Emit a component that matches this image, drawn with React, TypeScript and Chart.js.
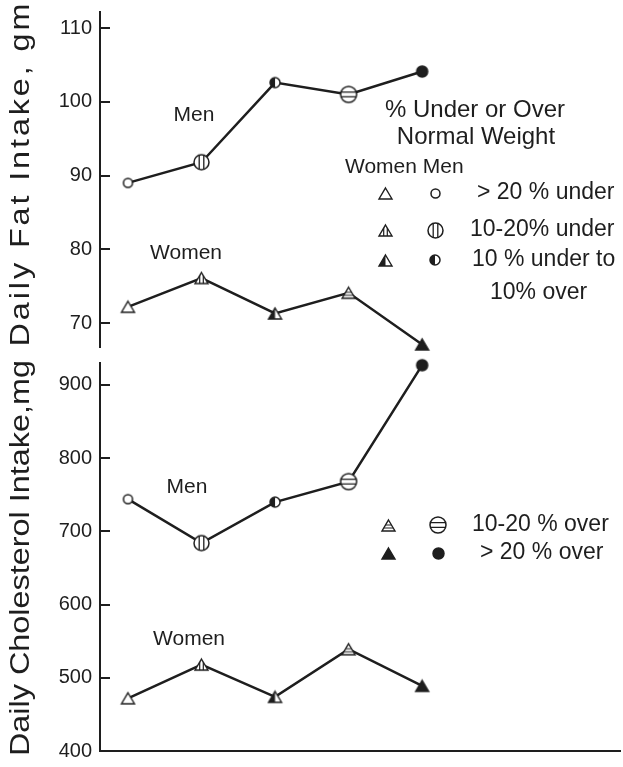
import React, { useEffect, useRef } from 'react';
import { Chart, registerables } from 'chart.js';

Chart.register(...registerables);

// ---- data ----
const weightGroups = ['>20% under', '10-20% under', '10% under to 10% over', '10-20% over', '>20% over'];
const groupPos = [1, 2, 3, 4, 5];
const fatMen = [89.0, 91.8, 102.6, 101.0, 104.1];
const fatWomen = [72.2, 76.1, 71.3, 74.1, 67.1];
const cholMen = [744, 684, 740, 768, 927];
const cholWomen = [472, 518, 474, 539, 489];
const fatTicks = [70, 80, 90, 100, 110];
const cholTicks = [400, 500, 600, 700, 800, 900];
const fatTitle = 'Daily Fat Intake, gm';
const cholTitle = 'Daily Cholesterol Intake,mg';
const legendTitle = ['% Under or Over', 'Normal Weight'];
const legendHeader = 'Women Men';
const topLegendRows = ['> 20 % under', '10-20% under', '10 % under to', '10% over'];
const bottomLegendRows = ['10-20 % over', '> 20 % over'];

const FONT = "'Liberation Sans', Arial, sans-serif";
const INK = '#1e1e1e';

const X_MIN = 0.62;
const X_MAX = 7.69;

const BOT_TOP = 348;
const BOT_H = 767 - BOT_TOP;

type Kind = 'open' | 'vlines' | 'half' | 'hlines' | 'filled';
const kinds: Kind[] = ['open', 'vlines', 'half', 'hlines', 'filled'];

function makeCircle(kind: Kind): HTMLCanvasElement {
  const radii: Record<Kind, number> = { open: 4.5, vlines: 7.5, half: 5, hlines: 8, filled: 5.5 };
  const r = radii[kind];
  const size = Math.ceil(r * 2 + 4);
  const c = document.createElement('canvas');
  c.width = size;
  c.height = size;
  const ctx = c.getContext('2d')!;
  const cx = size / 2;
  const cy = size / 2;
  ctx.lineWidth = 1.5;
  ctx.strokeStyle = INK;
  ctx.fillStyle = '#fff';
  ctx.beginPath();
  ctx.arc(cx, cy, r, 0, Math.PI * 2);
  ctx.fill();
  if (kind === 'filled') {
    ctx.fillStyle = INK;
    ctx.fill();
  }
  if (kind === 'half') {
    ctx.fillStyle = INK;
    ctx.beginPath();
    ctx.arc(cx, cy, r, Math.PI / 2, Math.PI * 1.5);
    ctx.closePath();
    ctx.fill();
  }
  if (kind === 'vlines' || kind === 'hlines') {
    ctx.save();
    ctx.beginPath();
    ctx.arc(cx, cy, r, 0, Math.PI * 2);
    ctx.clip();
    ctx.beginPath();
    for (const d of [-2.3, 2.3]) {
      if (kind === 'vlines') {
        ctx.moveTo(cx + d, cy - r);
        ctx.lineTo(cx + d, cy + r);
      } else {
        ctx.moveTo(cx - r, cy + d);
        ctx.lineTo(cx + r, cy + d);
      }
    }
    ctx.lineWidth = 1.3;
    ctx.stroke();
    ctx.restore();
  }
  ctx.beginPath();
  ctx.arc(cx, cy, r, 0, Math.PI * 2);
  ctx.stroke();
  return c;
}

function makeTriangle(kind: Kind): HTMLCanvasElement {
  const w = 13;
  const h = 11;
  const c = document.createElement('canvas');
  c.width = w + 4;
  c.height = h + 4;
  const ctx = c.getContext('2d')!;
  const cx = c.width / 2;
  const topY = 2;
  const baseY = 2 + h;
  const path = () => {
    ctx.beginPath();
    ctx.moveTo(cx, topY);
    ctx.lineTo(cx + w / 2, baseY);
    ctx.lineTo(cx - w / 2, baseY);
    ctx.closePath();
  };
  ctx.lineWidth = 1.4;
  ctx.strokeStyle = INK;
  ctx.fillStyle = '#fff';
  path();
  ctx.fill();
  if (kind === 'filled') {
    ctx.fillStyle = INK;
    ctx.fill();
  }
  if (kind === 'half') {
    ctx.fillStyle = INK;
    ctx.beginPath();
    ctx.moveTo(cx, topY);
    ctx.lineTo(cx, baseY);
    ctx.lineTo(cx - w / 2, baseY);
    ctx.closePath();
    ctx.fill();
  }
  if (kind === 'vlines' || kind === 'hlines') {
    ctx.save();
    path();
    ctx.clip();
    ctx.beginPath();
    if (kind === 'vlines') {
      for (const d of [-1.8, 1.8]) {
        ctx.moveTo(cx + d, topY);
        ctx.lineTo(cx + d, baseY);
      }
    } else {
      for (const yy of [baseY - 3, baseY - 6]) {
        ctx.moveTo(cx - w / 2, yy);
        ctx.lineTo(cx + w / 2, yy);
      }
    }
    ctx.lineWidth = 1.2;
    ctx.stroke();
    ctx.restore();
  }
  path();
  ctx.stroke();
  return c;
}

function drawText(ctx: CanvasRenderingContext2D, text: string, x: number, y: number, size: number, align: CanvasTextAlign) {
  ctx.save();
  ctx.font = `${size}px ${FONT}`;
  ctx.fillStyle = INK;
  ctx.textAlign = align;
  ctx.textBaseline = 'middle';
  ctx.fillText(text, x, y);
  ctx.restore();
}

// Axis title: rotated, slightly extended glyphs to mimic the wide typeface of the original
function drawAxisTitle(ctx: CanvasRenderingContext2D, text: string, baseX: number, centerY: number, spacing: number) {
  ctx.save();
  ctx.font = `27px ${FONT}`;
  ctx.fillStyle = INK;
  (ctx as any).letterSpacing = `${spacing}px`;
  ctx.textAlign = 'center';
  ctx.textBaseline = 'alphabetic';
  ctx.translate(baseX, centerY);
  ctx.rotate(-Math.PI / 2);
  ctx.scale(1.2, 1);
  ctx.fillText(text, spacing / 2, 0);
  ctx.restore();
}

function drawImg(ctx: CanvasRenderingContext2D, img: HTMLCanvasElement, x: number, y: number) {
  ctx.drawImage(img, Math.round(x - img.width / 2), Math.round(y - img.height / 2));
}

const tickMarkPlugin = {
  id: 'innerTicks',
  afterDraw(chart: any) {
    const { ctx, chartArea } = chart;
    const scale = chart.scales.y;
    ctx.save();
    ctx.strokeStyle = INK;
    ctx.lineWidth = 2;
    ctx.beginPath();
    for (const t of scale.ticks) {
      const y = Math.round(scale.getPixelForValue(t.value));
      if (Math.abs(y - chartArea.bottom) < 1) continue;
      ctx.moveTo(chartArea.left, y);
      ctx.lineTo(chartArea.left + 10, y);
    }
    ctx.stroke();
    ctx.restore();
  },
};

function yScale(min: number, max: number, ticks: number[]) {
  return {
    min,
    max,
    afterFit: (s: any) => {
      s.width = 100;
      s.paddingTop = 0;
      s.paddingBottom = 0;
    },
    afterBuildTicks: (s: any) => {
      s.ticks = ticks.map((v) => ({ value: v }));
    },
    grid: { display: false, drawTicks: false },
    border: { display: true, color: INK, width: 2 },
    ticks: { font: { size: 20, family: FONT }, color: INK, padding: 8 },
    title: { display: false },
  };
}

function dataset(label: string, values: number[], styles: HTMLCanvasElement[]) {
  return {
    label,
    data: groupPos.map((x, i) => ({ x, y: values[i] })),
    borderColor: INK,
    backgroundColor: INK,
    borderWidth: 2.5,
    pointStyle: styles,
    pointRadius: 0.5,
    pointHoverRadius: 0.5,
    pointBorderWidth: 0,
    tension: 0,
    clip: false as any,
  };
}

export default function App() {
  const topRef = useRef<HTMLCanvasElement>(null);
  const botRef = useRef<HTMLCanvasElement>(null);

  useEffect(() => {
    const circles = kinds.map(makeCircle);
    const tris = kinds.map(makeTriangle);

    const topText = {
      id: 'topText',
      afterDraw(chart: any) {
        const ctx = chart.ctx as CanvasRenderingContext2D;
        drawAxisTitle(ctx, fatTitle, 29, 175, 2.4);
        drawText(ctx, 'Men', 194, 115, 21, 'center');
        drawText(ctx, 'Women', 186, 253, 21, 'center');
        drawText(ctx, legendTitle[0], 475, 110, 24, 'center');
        drawText(ctx, legendTitle[1], 476, 137, 24, 'center');
        drawText(ctx, legendHeader, 345, 167, 21, 'left');
        const rowsY = [193, 230, 260];
        const rowsX = [477, 470, 472];
        for (let i = 0; i < 3; i++) {
          drawImg(ctx, tris[i], 385, rowsY[i]);
          drawImg(ctx, circles[i], 435, rowsY[i]);
          drawText(ctx, topLegendRows[i], rowsX[i], rowsY[i], 23, 'left');
        }
        drawText(ctx, topLegendRows[3], 490, 293, 23, 'left');
      },
    };

    const botText = {
      id: 'botText',
      afterDraw(chart: any) {
        const ctx = chart.ctx as CanvasRenderingContext2D;
        const off = BOT_TOP;
        drawAxisTitle(ctx, cholTitle, 29, 558 - off, 0);
        drawText(ctx, 'Men', 187, 487 - off, 21, 'center');
        drawText(ctx, 'Women', 189, 639 - off, 21, 'center');
        const rowsY = [525, 553];
        const rowsX = [472, 480];
        for (let i = 0; i < 2; i++) {
          drawImg(ctx, tris[i + 3], 388, rowsY[i] - off);
          drawImg(ctx, circles[i + 3], 438, rowsY[i] - off);
          drawText(ctx, bottomLegendRows[i], rowsX[i], rowsY[i] - off, 23, 'left');
        }
      },
    };

    const common = {
      responsive: false,
      animation: false as const,
      devicePixelRatio: 1,
      events: [] as any[],
      plugins: { legend: { display: false }, tooltip: { enabled: false } },
    };

    const top = new Chart(topRef.current!, {
      type: 'line',
      data: {
        datasets: [dataset('Men', fatMen, circles), dataset('Women', fatWomen, tris)] as any,
      },
      options: {
        ...common,
        layout: { padding: { top: 12, bottom: 8, left: 0, right: 3 } },
        scales: {
          x: { type: 'linear', min: X_MIN, max: X_MAX, display: false },
          y: yScale(66.75, 112.17, fatTicks) as any,
        },
      } as any,
      plugins: [tickMarkPlugin, topText],
    });

    const bot = new Chart(botRef.current!, {
      type: 'line',
      data: {
        datasets: [dataset('Men', cholMen, circles), dataset('Women', cholWomen, tris)] as any,
      },
      options: {
        ...common,
        layout: { padding: { top: 363 - BOT_TOP, bottom: 16, left: 0, right: 3 } },
        scales: {
          x: {
            type: 'linear',
            min: X_MIN,
            max: X_MAX,
            display: true,
            afterFit: (s: any) => {
              s.height = 0;
              s.paddingLeft = 0;
              s.paddingRight = 0;
            },
            ticks: { display: false },
            grid: { display: false, drawTicks: false },
            border: { display: true, color: INK, width: 2 },
          },
          y: yScale(400, 930, cholTicks) as any,
        },
      } as any,
      plugins: [tickMarkPlugin, botText],
    });

    return () => {
      top.destroy();
      bot.destroy();
    };
  }, []);

  return (
    <div style={{ position: 'absolute', left: 0, top: 0, width: 623, height: 767, background: '#fff' }} data-groups={weightGroups.length}>
      <canvas ref={topRef} width={623} height={355} style={{ position: 'absolute', left: 0, top: 0, display: 'block' }} />
      <canvas ref={botRef} width={623} height={BOT_H} style={{ position: 'absolute', left: 0, top: BOT_TOP, display: 'block' }} />
    </div>
  );
}
